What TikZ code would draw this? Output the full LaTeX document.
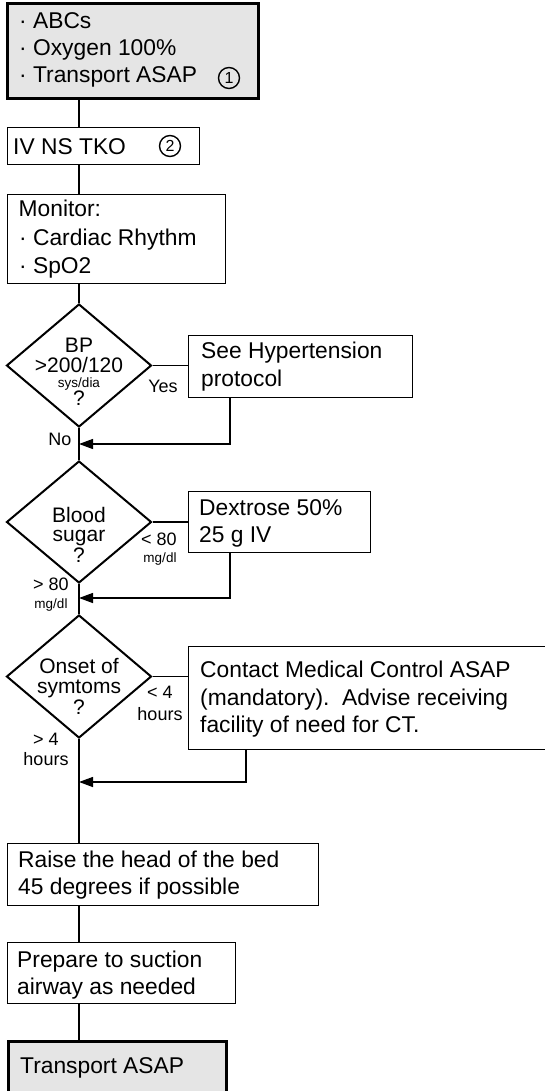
\documentclass[tikz,border=0pt]{standalone}
\usepackage{fontspec}
\setmainfont{Liberation Sans}
\usetikzlibrary{arrows.meta,shapes.geometric}
\tikzset{
  box/.style={draw, line width=1.4pt, fill=white, inner sep=0pt, anchor=north west},
  graybox/.style={draw, line width=3pt, fill=gray!20, inner sep=0pt, anchor=north west},
  dia/.style={draw, diamond, line width=2pt, fill=white, inner sep=0pt, minimum width=145pt},
  conn/.style={line width=1.3pt},
  arr/.style={line width=1.3pt, -{Triangle[length=14pt,width=10pt]}},
  txt/.style={anchor=base west, inner sep=0pt, font=\fontsize{22.8}{27}\selectfont},
  dtxt/.style={anchor=base, inner sep=0pt, font=\fontsize{21}{25}\selectfont},
  lbl/.style={anchor=base, inner sep=0pt, font=\fontsize{18}{22}\selectfont},
  sml/.style={anchor=base, inner sep=0pt, font=\fontsize{13.5}{16}\selectfont},
  num/.style={draw, circle, line width=1.4pt, inner sep=0pt, minimum size=21pt, font=\fontsize{16}{18}\selectfont}
}
\begin{document}
\begin{tikzpicture}[x=1pt,y=-1pt]
\useasboundingbox (0,0) rectangle (544,1091);
% boxes
\node[graybox, minimum width=251pt, minimum height=95pt] (b1) at (6,2) {};
\node[box, minimum width=192pt, minimum height=37pt] (b2) at (7,127) {};
\node[box, minimum width=218pt, minimum height=89pt] (b3) at (7,194) {};
\node[dia, minimum height=123pt] (d1) at (79,365.5) {};
\node[box, minimum width=224pt, minimum height=62pt] (hyp) at (188,335) {};
\node[dia, minimum height=122pt] (d2) at (79,522) {};
\node[box, minimum width=182pt, minimum height=61pt] (dex) at (188,491) {};
\node[dia, minimum height=123pt] (d3) at (79,676.5) {};
\node[box, minimum width=362pt, minimum height=103pt] (con) at (188,646) {};
\node[box, minimum width=311pt, minimum height=62pt] (rai) at (7,843) {};
\node[box, minimum width=228pt, minimum height=61pt] (pre) at (7,942) {};
\node[graybox, minimum width=218pt, minimum height=70pt] (tra) at (7,1040) {};
% junction coordinates
\coordinate (j1) at (230,444);
\coordinate (j2) at (230,598);
\coordinate (j3) at (246,782);
% connectors
\draw[conn] (d1.north |- b1.south) -- (d1.north |- b2.north);
\draw[conn] (d1.north |- b2.south) -- (d1.north |- b3.north);
\draw[conn] (d1.north |- b3.south) -- (d1.north);
\draw[conn] (d1.east) -- (hyp.west |- d1.east);
\draw[arr] (j1 |- hyp.south) -- (j1) -- (j1 -| d1.south);
\draw[conn] (d1.south) -- (d2.north);
\draw[conn] (d2.east) -- (dex.west |- d2.east);
\draw[arr] (j2 |- dex.south) -- (j2) -- (j2 -| d2.south);
\draw[conn] (d2.south) -- (d3.north);
\draw[conn] (d3.east) -- (con.west |- d3.east);
\draw[arr] (j3 |- con.south) -- (j3) -- (j3 -| d3.south);
\draw[conn] (d3.south) -- (d3.south |- rai.north);
\draw[conn] (d3.south |- rai.south) -- (d3.south |- pre.north);
\draw[conn] (d3.south |- pre.south) -- (d3.south |- tra.north);
% box texts
\node[txt] (t1a) at (19,29) {· ABCs};
\node[txt] (t1b) at (19,56) {· Oxygen 100\%};
\node[txt] (t1c) at (19,83) {· Transport ASAP};
\node[num] (n1) at (229,78) {1};
\node[txt] (t2) at (13,155) {IV NS TKO};
\node[num] (n2) at (170,146) {2};
\node[txt] (t3a) at (18.5,217) {Monitor:};
\node[txt] (t3b) at (19,245) {· Cardiac Rhythm};
\node[txt] (t3c) at (19,273) {· SpO2};
\node[txt] (th1) at (201,358) {See Hypertension};
\node[txt] (th2) at (201,386) {protocol};
\node[txt] (tx1) at (199,515) {Dextrose 50\%};
\node[txt] (tx2) at (199,542) {25 g IV};
\node[txt] (tc1) at (200,677) {Contact Medical Control ASAP};
\node[txt] (tc2) at (200,705) {(mandatory).\ \ Advise receiving};
\node[txt] (tc3) at (200,732) {facility of need for CT.};
\node[txt] (tr1) at (18,867) {Raise the head of the bed};
\node[txt] (tr2) at (18,894) {45 degrees if possible};
\node[txt] (tp1) at (17,967) {Prepare to suction};
\node[txt] (tp2) at (17,994) {airway as needed};
\node[txt] (tt) at (20,1073) {Transport ASAP};
% diamond texts
\node[dtxt] (a1) at (79,352) {BP};
\node[dtxt] (a2) at (79,372) {>200/120};
\node[sml] (a3) at (79,387) {sys/dia};
\node[dtxt] (a4) at (79,405) {?};
\node[dtxt] (c1) at (79,522) {Blood};
\node[dtxt] (c2) at (79,541) {sugar};
\node[dtxt] (c3) at (79,562) {?};
\node[dtxt] (e1) at (79,673) {Onset of};
\node[dtxt] (e2) at (79,693) {symtoms};
\node[dtxt] (e3) at (79,714) {?};
% branch labels
\node[lbl] (yes) at (163,392) {Yes};
\node[lbl] (no) at (60,445) {No};
\node[lbl] (lt80) at (159,545) {< 80};
\node[sml] (lt80u) at (160,562) {mg/dl};
\node[lbl] (gt80) at (51,590) {> 80};
\node[sml] (gt80u) at (51,608) {mg/dl};
\node[lbl] (lt4) at (160,698) {< 4};
\node[lbl] (lt4u) at (160,720) {hours};
\node[lbl] (gt4) at (46,745) {> 4};
\node[lbl] (gt4u) at (46,765) {hours};
\end{tikzpicture}
\end{document}
